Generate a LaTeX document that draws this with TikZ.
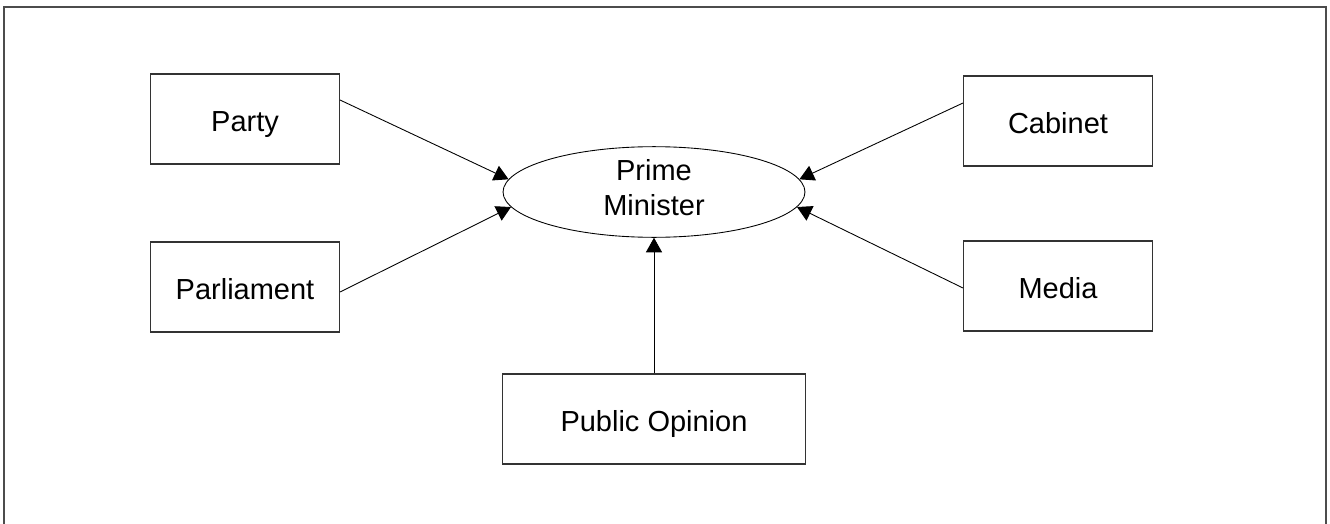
\documentclass[tikz,border=0pt]{standalone}
\usepackage{fontspec}
\setmainfont{Liberation Sans}
\usetikzlibrary{arrows.meta,shapes.geometric}
\newcommand{\boxWidth}{3.78cm}
\newcommand{\boxHeight}{1.8cm}
\newcommand{\labelSize}{\fontsize{16.5}{19.4}\selectfont}

\begin{document}
\begin{tikzpicture}[x=0.02cm, y=-0.02cm,
      actorBox/.style={draw=black!80, line width=0.6pt, minimum width=\boxWidth, minimum height=\boxHeight, inner sep=0pt, text height=0.5cm, text depth=0pt, font=\labelSize},
      pmEllipse/.style={ellipse, draw, line width=0.5pt, minimum width=6.04cm, minimum height=1.8cm, inner sep=0pt, align=center, text depth=0.18cm, font=\labelSize},
      influence/.style={-{Triangle[length=0.29cm, width=0.32cm]}, line width=0.5pt}]

      \useasboundingbox (0,0) rectangle (1330,524);
      \draw[line width=0.6pt, black!70] (4,524) -- (4,7) -- (1326,7) -- (1326,524);

      \node[pmEllipse] (pm) at (654,192) {Prime\\Minister};

      \node[actorBox] (party) at (245,119) {Party};
      \node[actorBox] (parliament) at (245,287) {Parliament};
      \node[actorBox] (cabinet) at (1058,121) {Cabinet};
      \node[actorBox] (media) at (1058,286) {Media};
      \node[actorBox, minimum width=6.06cm] (opinion) at (654,419) {Public Opinion};

%influences on the PM
\draw[influence] ([yshift=0.38cm]party.east) -- (pm.175);
\draw[influence] ([yshift=-0.1cm]parliament.east) -- (pm.186);
\draw[influence] ([yshift=0.36cm]cabinet.west) -- (pm.5);
\draw[influence] ([yshift=-0.04cm]media.west) -- (pm.-6);
\draw[influence] (opinion) -- (pm);
   \end{tikzpicture}
\end{document}
